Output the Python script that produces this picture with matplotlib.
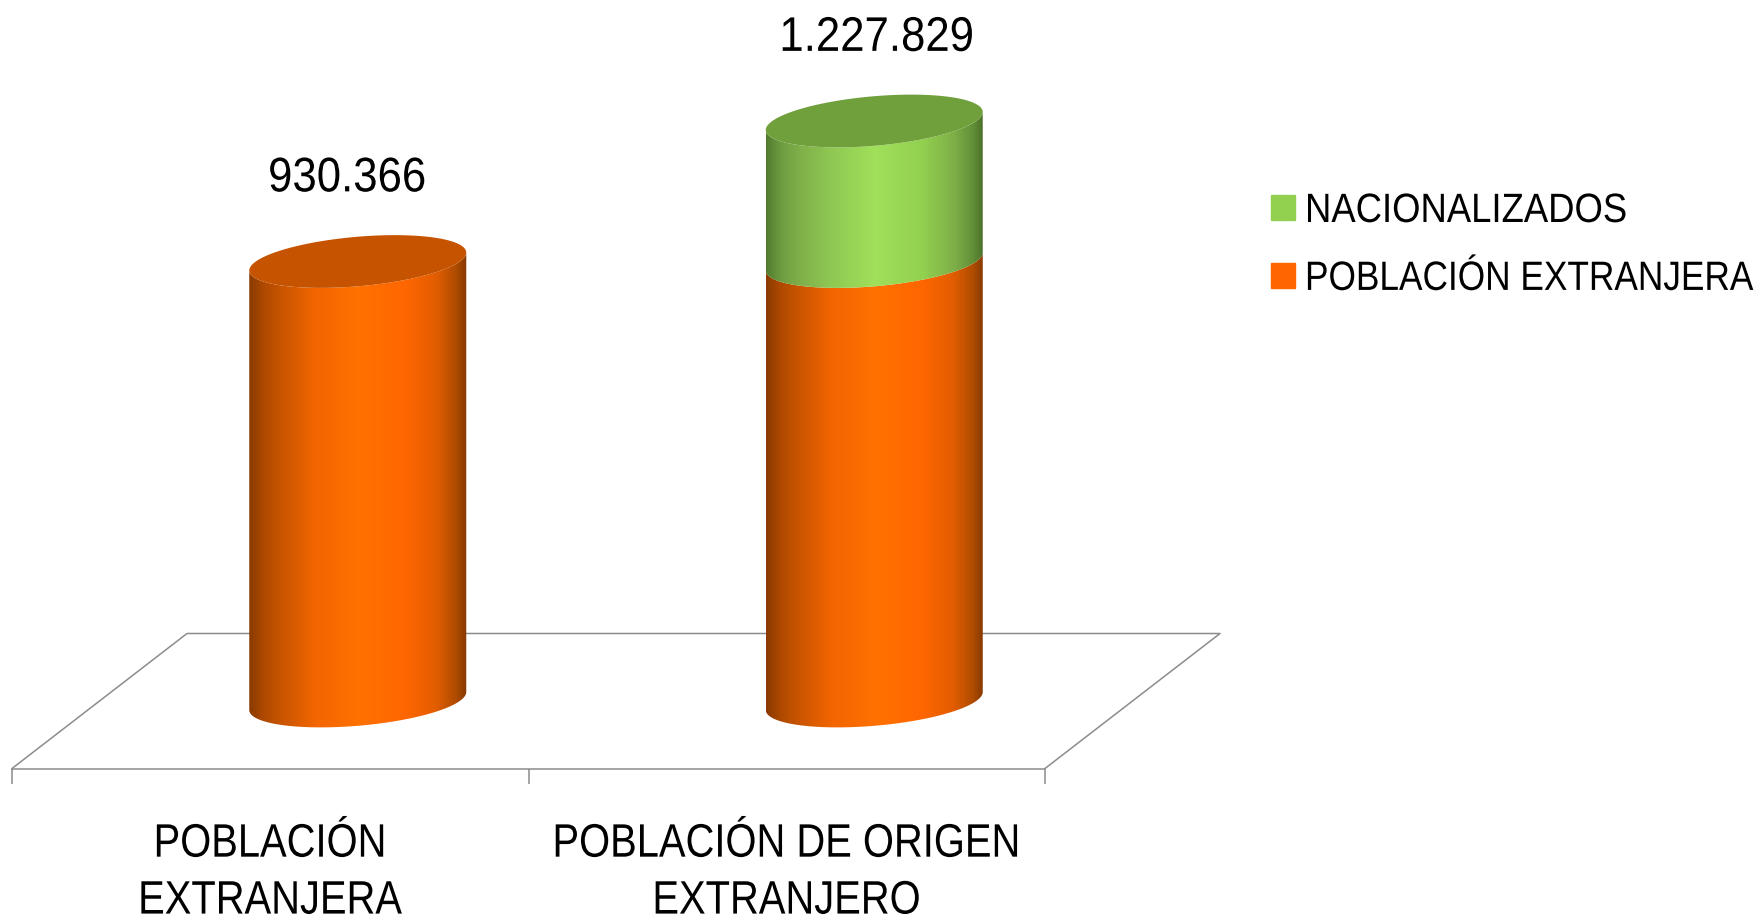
import numpy as np
import matplotlib
matplotlib.use("Agg")
import matplotlib.pyplot as plt
from matplotlib.colors import LinearSegmentedColormap
from matplotlib.patches import Patch, Polygon
from matplotlib.patheffects import AbstractPathEffect
from matplotlib.transforms import Affine2D

plt.rcParams["font.family"] = ["Liberation Sans", "DejaVu Sans"]

categories = ["POBLACIÓN\nEXTRANJERA", "POBLACIÓN DE ORIGEN\nEXTRANJERO"]
extranjera = [930366, 930366]
nacionalizados = [0, 297463]
value_labels = ["930.366", "1.227.829"]

W, H = 1760, 922
fig = plt.figure(figsize=(W / 100, H / 100), dpi=100, facecolor="white")
# value 0 sits on the middle of the floor, 1.227.829 at the centre of the top cap
ax = fig.add_axes([12 / W, (H - 701) / H, 1033 / W, 580 / H])
ax.patch.set_visible(False)

ymax = extranjera[1] + nacionalizados[1]
per_px = ymax / 580
dx = 87.5 / 516.5  # shift of the bars towards the back of the floor
half_w = 108.5 / 516.5
floor_dy = 67.5 * per_px
tilt = 9.0 * per_px
minor = 24.8 * per_px

stops = [0, 0.07, 0.16, 0.3, 0.5, 0.72, 0.86, 0.95, 1]
orange = LinearSegmentedColormap.from_list("o", list(zip(stops, [
    "#8a3a00", "#b04a00", "#cc5600", "#f26500", "#ff7100", "#ff6600", "#e25d00", "#b04c00", "#863800"])))
green = LinearSegmentedColormap.from_list("g", list(zip(stops, [
    "#527c2e", "#6e9c40", "#80b04a", "#8fc853", "#a0e05a", "#92d050", "#7fb048", "#628f38", "#4a7028"])))
grad = np.linspace(0, 1, 256).reshape(1, -1)


# the original font is a narrow one, no narrow family here so squeeze the glyphs
class Squeeze(AbstractPathEffect):
    def __init__(self, text, sx, left=False):
        super().__init__()
        self.text = text
        self.sx = sx
        self.left = left

    def draw_path(self, renderer, gc, tpath, affine, rgbFace=None):
        bb = self.text.get_window_extent()
        x0 = bb.x0 if self.left else (bb.x0 + bb.x1) / 2
        squeeze = Affine2D().translate(-x0, 0).scale(self.sx, 1).translate(x0, 0)
        renderer.draw_path(gc, tpath, affine + squeeze, rgbFace)


def arc(cx, y, t0, t1):
    t = np.linspace(t0, t1, 120)
    return np.column_stack([cx + half_w * np.cos(t), y + tilt * np.cos(t) + minor * np.sin(t)])


def side(cx, y0, y1, cmap, z):
    pts = np.vstack([arc(cx, y0, np.pi, 2 * np.pi), arc(cx, y1, 2 * np.pi, np.pi)])
    im = ax.imshow(grad, cmap=cmap, aspect="auto", zorder=z,
                   extent=[cx - half_w, cx + half_w, y0 - 2 * minor, y1 + 2 * minor])
    im.set_clip_box(fig.bbox)
    im.set_clip_path(Polygon(pts, transform=ax.transData))


# floor
ax.plot([-0.5, -0.5 + 2 * dx, 1.5 + 2 * dx, 1.5], [-floor_dy, floor_dy, floor_dy, -floor_dy],
        color="#8c8c8c", lw=1.1, clip_on=False, zorder=1)

label_shift = [-7.5, 2]
for i in range(len(categories)):
    cx = i + dx
    side(cx, 0, extranjera[i], orange, 3)
    top = extranjera[i] + nacionalizados[i]
    cap = "#c65300"
    if nacionalizados[i] > 0:
        side(cx, extranjera[i], top, green, 4)
        cap = "#70a03c"
    ax.add_patch(Polygon(arc(cx, top, 0, 2 * np.pi), facecolor=cap, edgecolor="none", zorder=5, clip_on=False))
    t = ax.annotate(value_labels[i], (cx, top), xytext=(label_shift[i], 59.5), textcoords="offset points",
                    ha="center", va="center", fontsize=35, color="black", annotation_clip=False)
    t.set_path_effects([Squeeze(t, 0.9)])

ax.set_xlim(-0.5, 1.5)
ax.set_ylim(0, ymax)
for s in ["top", "left", "right"]:
    ax.spines[s].set_visible(False)
ax.spines["bottom"].set_position(("data", -floor_dy))
ax.spines["bottom"].set_color("#8c8c8c")
ax.spines["bottom"].set_linewidth(1.1)
ax.yaxis.set_visible(False)
ax.set_xticks([-0.5, 0.5, 1.5])
ax.set_xticklabels([])
ax.set_xticks([0, 1], minor=True)
ax.set_xticklabels(categories, minor=True, fontsize=33.8, linespacing=1.38)
ax.tick_params(axis="x", which="major", length=10.5, width=1.1, color="#8c8c8c")
ax.tick_params(axis="x", which="minor", length=0, pad=39, colors="black")
for t in ax.get_xticklabels(minor=True):
    t.set_path_effects([Squeeze(t, 0.85)])

handles = [Patch(color="#92d050", label="NACIONALIZADOS"), Patch(color="#ff6600", label="POBLACIÓN EXTRANJERA")]
leg = fig.legend(handles=handles, loc="upper left", bbox_to_anchor=(1271 / W, 1 - 192 / H), frameon=False,
                 fontsize=29.5, handlelength=0.58, handleheight=0.58, handletextpad=0.25, labelspacing=0.73,
                 borderpad=0, borderaxespad=0)
for t, sx in zip(leg.get_texts(), [0.89, 0.86]):
    t.set_path_effects([Squeeze(t, sx, left=True)])

fig.savefig("out.png", dpi=100)
